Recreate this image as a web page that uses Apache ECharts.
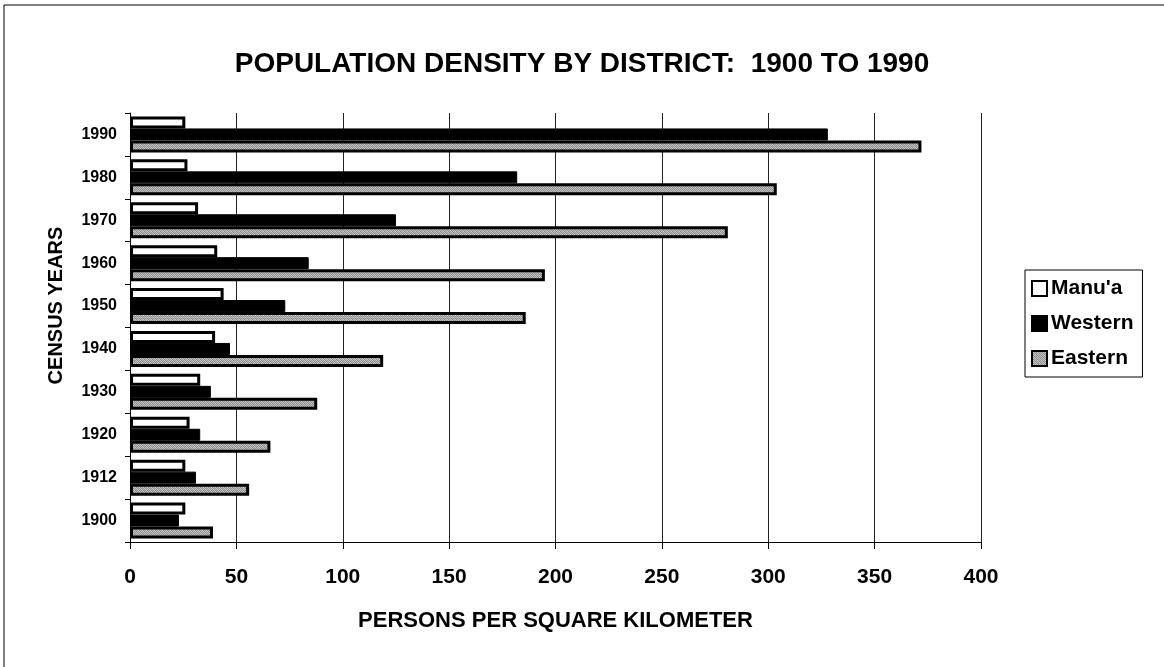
<!DOCTYPE html>
<html>
<head>
<meta charset="utf-8">
<script src="https://cdn.jsdelivr.net/npm/echarts@6/dist/echarts.min.js"></script>
<style>
html,body{margin:0;padding:0;background:#fff;}
#chart{width:1164px;height:667px;}
</style>
</head>
<body>
<div id="chart"></div>
<script>
const years = ['1900', '1912', '1920', '1930', '1940', '1950', '1960', '1970', '1980', '1990'];
const manua = [26, 26, 28, 33, 40, 44, 41, 32, 27, 26];
const western = [23, 31, 33, 38, 47, 73, 84, 125, 182, 328];
const eastern = [39, 56, 66, 88, 119, 186, 195, 281, 304, 372];
const xTicks = { min: 0, max: 400, interval: 50 };

// dithered gray texture for the Eastern bars
function makePattern() {
  const c = document.createElement('canvas');
  c.width = 4; c.height = 4;
  const ctx = c.getContext('2d');
  const shades = [
    ['#c4c4c4', '#868686', '#b8b8b8', '#989898'],
    ['#969696', '#cccccc', '#8a8a8a', '#c0c0c0'],
    ['#bababa', '#929292', '#c6c6c6', '#848484'],
    ['#888888', '#bebebe', '#9c9c9c', '#cecece']
  ];
  for (let y = 0; y < 4; y++) for (let x = 0; x < 4; x++) {
    ctx.fillStyle = shades[y][x];
    ctx.fillRect(x, y, 1, 1);
  }
  return c;
}

const FONT = '"Liberation Sans", Arial, sans-serif';
const chart = echarts.init(document.getElementById('chart'), null, { renderer: 'canvas' });

chart.setOption({
  backgroundColor: '#ffffff',
  animation: false,
  title: {
    text: 'POPULATION DENSITY BY DISTRICT:  1900 TO 1990',
    left: 'center',
    top: 45,
    textStyle: { fontFamily: FONT, fontWeight: 'bold', fontSize: 28, color: '#000' }
  },
  legend: {
    orient: 'vertical',
    left: 1025,
    top: 270,
    padding: [8, 9, 8, 6],
    borderColor: '#000',
    borderWidth: 1,
    itemGap: 14,
    itemWidth: 15,
    itemHeight: 15,
    icon: 'rect',
    textStyle: { fontFamily: FONT, fontWeight: 'bold', fontSize: 21, color: '#000', padding: [0, 0, 0, -1] },
    data: ["Manu'a", 'Western', 'Eastern']
  },
  grid: { left: 130, right: 183, top: 113, bottom: 125, containLabel: false },
  xAxis: {
    type: 'value',
    min: xTicks.min, max: xTicks.max, interval: xTicks.interval,
    name: 'PERSONS PER SQUARE KILOMETER',
    nameLocation: 'middle',
    nameGap: 68,
    nameTextStyle: { fontFamily: FONT, fontWeight: 'bold', fontSize: 22, color: '#000' },
    axisLine: { show: true, lineStyle: { color: '#000', width: 1 } },
    axisTick: { show: true, length: 7, lineStyle: { color: '#000' } },
    axisLabel: { margin: 25, fontFamily: FONT, fontWeight: 'bold', fontSize: 21, color: '#000' },
    splitLine: { show: true, lineStyle: { color: '#222', width: 1 } }
  },
  yAxis: {
    type: 'category',
    data: years,
    name: 'CENSUS YEARS',
    nameLocation: 'middle',
    nameRotate: 90,
    nameGap: 64,
    nameTextStyle: { fontFamily: FONT, fontWeight: 'bold', fontSize: 20, color: '#000', padding: [0, 0, 0, 44] },
    axisLine: { show: true, lineStyle: { color: '#000', width: 1 } },
    axisTick: { show: true, length: 5, lineStyle: { color: '#000' } },
    axisLabel: { margin: 13, fontFamily: FONT, fontWeight: 'bold', fontSize: 16, color: '#000' },
    splitLine: { show: false }
  },
  series: [
    {
      name: "Manu'a", type: 'bar', data: manua,
      barWidth: 12, barGap: '0%',
      itemStyle: { color: '#ffffff', borderColor: '#000', borderWidth: 3 }
    },
    {
      name: 'Western', type: 'bar', data: western,
      barWidth: 12, barGap: '0%',
      itemStyle: { color: '#000000', borderColor: '#000', borderWidth: 1 }
    },
    {
      name: 'Eastern', type: 'bar', data: eastern,
      barWidth: 12, barGap: '0%',
      itemStyle: { color: { image: makePattern(), repeat: 'repeat' }, borderColor: '#000', borderWidth: 3 }
    }
  ],
  graphic: [
    { type: 'line', shape: { x1: 4, y1: 5, x2: 4, y2: 667 }, style: { stroke: '#000', lineWidth: 1 } },
    { type: 'line', shape: { x1: 4, y1: 5, x2: 1164, y2: 5 }, style: { stroke: '#000', lineWidth: 1 } }
  ]
});
</script>
</body>
</html>
